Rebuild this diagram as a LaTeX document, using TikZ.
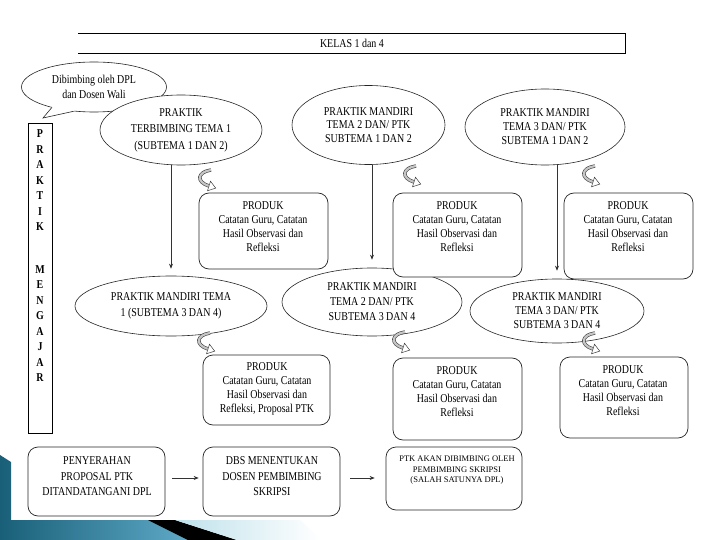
\documentclass[tikz,border=0pt]{standalone}
\usepackage{fontspec}
\setmainfont{Liberation Serif}[FakeStretch=0.83]
\newfontfamily\wideserif{Liberation Serif}
\usetikzlibrary{shapes.geometric,arrows.meta,calc}
\begin{document}
\begin{tikzpicture}[x=1pt,y=-1pt,
  ell/.style={draw=black!85, line width=0.6pt, ellipse, inner sep=0pt, align=center, fill=white},
  prod/.style={draw=black!85, line width=0.7pt, rounded corners=10pt, fill=white, inner sep=0pt},
  ptext/.style={align=center, inner sep=0pt, font=\fontsize{12}{14}\selectfont},
  arr/.style={draw=black!80, line width=0.6pt, -{Stealth[length=5pt,width=4pt]}},
  curly/.pic={
    \draw[line width=3.4pt, black!75] (5,-10) .. controls (-9,-8) and (-10,2) .. (3,6);
    \draw[line width=2.2pt, gray!45] (5,-10) .. controls (-9,-8) and (-10,2) .. (3,6);
    \filldraw[fill=white, draw=black!75, line width=0.5pt] (4.5,1.2) -- (9.7,8.1) -- (1.5,10.8) -- cycle;
  }]
\useasboundingbox (0,0) rectangle (720,540);
\fill[white] (0,0) rectangle (720,540);

% slide decoration
\shade[left color={rgb,255:red,25;green,95;blue,120}, right color={rgb,255:red,95;green,170;blue,200}]
  (0,455) -- (11,462) -- (11,520) -- (150,520) -- (190,540) -- (0,540) -- cycle;
\fill[black] (148,520) -- (175,520) -- (237,540) -- (188,540) -- cycle;
\shade[left color={rgb,255:red,190;green,225;blue,235}, right color=white]
  (175,520) -- (300,520) -- (320,540) -- (237,540) -- cycle;

% header
\node[inner sep=0pt, font=\fontsize{12}{13}\selectfont] (K) at (352,43) {KELAS 1 dan 4};
\draw[line width=0.7pt] (78,33) -- (625,33) -- (625,53) -- (78,53);

% callout
\node[ell, minimum width=145pt, minimum height=50pt, font=\fontsize{12}{15}\selectfont] (C) at (94,87) {Dibimbing oleh DPL\\dan Dosen Wali};
\fill[white] (C.206) -- (43,118) -- (C.230) -- ($(C.230)!3pt!(C.center)$) -- ($(C.206)!3pt!(C.center)$) -- cycle;
\draw[line width=0.6pt, black!85] (C.206) -- (43,118) -- (C.230);

% vertical box
\node[draw, line width=0.7pt, minimum width=24pt, minimum height=310pt, inner sep=0pt] (V) at (40,278) {};
\node[align=center, inner sep=0pt, font=\bfseries\fontsize{12}{15.5}\selectfont] (VT) at (40,256)
  {P\\R\\A\\K\\T\\I\\K\\[27pt]M\\E\\N\\G\\A\\J\\A\\R};

% row 1 ellipses
\node[ell, minimum width=162pt, minimum height=70pt, font=\fontsize{12}{16.5}\selectfont] (E1) at (181,130) {PRAKTIK\\TERBIMBING TEMA 1\\(SUBTEMA 1 DAN 2)};
\node[ell, minimum width=153pt, minimum height=79pt, font=\fontsize{12}{13.5}\selectfont] (E2) at (368.5,125) {PRAKTIK MANDIRI\\TEMA 2 DAN/ PTK\\SUBTEMA 1 DAN 2};
\node[ell, minimum width=160pt, minimum height=76pt, font=\fontsize{12}{14}\selectfont] (E3) at (545,127) {PRAKTIK MANDIRI\\TEMA 3 DAN/ PTK\\SUBTEMA 1 DAN 2};

% row 2 ellipses
\node[ell, minimum width=192pt, minimum height=60pt, font=\fontsize{12}{16}\selectfont] (F1) at (171,306) {PRAKTIK MANDIRI TEMA\\1 (SUBTEMA 3 DAN 4)};
\node[ell, minimum width=180pt, minimum height=68pt, font=\fontsize{12}{15}\selectfont] (F2) at (372,302) {PRAKTIK MANDIRI\\TEMA 2 DAN/ PTK\\SUBTEMA 3 DAN 4};
\node[ell, minimum width=174pt, minimum height=64pt, font=\fontsize{12}{14}\selectfont] (F3) at (557,311) {PRAKTIK MANDIRI\\TEMA 3 DAN/ PTK\\SUBTEMA 3 DAN 4};

% vertical arrows
\draw[arr] (E1.south -| F1.north) -- ([yshift=7pt]F1.north);
\draw[arr] (E2.south -| F2.north) -- ([yshift=8pt]F2.north);
\draw[arr] (E3.south -| F3.north) -- ([yshift=8pt]F3.north);

% row 1 products
\node[prod, minimum width=129pt, minimum height=76pt] (P1) at (263.5,231) {};
\node[ptext] (P1t) at (263,227) {PRODUK\\Catatan Guru, Catatan\\Hasil Observasi dan\\Refleksi};
\node[prod, minimum width=129pt, minimum height=84pt] (P2) at (457.5,235) {};
\node[ptext] (P2t) at (457,227) {PRODUK\\Catatan Guru, Catatan\\Hasil Observasi dan\\Refleksi};
\node[prod, minimum width=129pt, minimum height=86pt] (P3) at (628.5,236) {};
\node[ptext] (P3t) at (628,227) {PRODUK\\Catatan Guru, Catatan\\Hasil Observasi dan\\Refleksi};

% row 2 products
\node[prod, minimum width=127pt, minimum height=70pt] (Q1) at (266.5,390) {};
\node[ptext] (Q1t) at (267,389) {PRODUK\\Catatan Guru, Catatan\\Hasil Observasi dan\\Refleksi, Proposal PTK};
\node[prod, minimum width=129pt, minimum height=82pt] (Q2) at (457.5,399) {};
\node[ptext] (Q2t) at (457,392) {PRODUK\\Catatan Guru, Catatan\\Hasil Observasi dan\\Refleksi};
\node[prod, minimum width=128pt, minimum height=81pt] (Q3) at (624,397.5) {};
\node[ptext] (Q3t) at (623,390.5) {PRODUK\\Catatan Guru, Catatan\\Hasil Observasi dan\\Refleksi};

% curved block arrows
\pic at (206,180) {curly};
\pic at (411,176) {curly};
\pic at (590,176) {curly};
\pic at (205,343) {curly};
\pic at (400,342) {curly};
\pic at (590,343) {curly};

% bottom row
\node[prod, minimum width=137pt, minimum height=69pt] (B1) at (96.5,481.5) {};
\node[ptext, font=\fontsize{12}{15.5}\selectfont] (B1t) at (97,476.5) {PENYERAHAN\\PROPOSAL PTK\\DITANDATANGANI DPL};
\node[prod, minimum width=137pt, minimum height=69pt] (B2) at (271.5,481.5) {};
\node[ptext, font=\fontsize{12}{15.5}\selectfont] (B2t) at (272,476.5) {DBS MENENTUKAN\\DOSEN PEMBIMBING\\SKRIPSI};
\node[prod, minimum width=136pt, minimum height=63pt] (B3) at (454,478.5) {};
\node[ptext, font=\wideserif\fontsize{8.5}{10.5}\selectfont] (B3t) at (457,470.5) {PTK AKAN DIBIMBING OLEH\\PEMBIMBING SKRIPSI\\(SALAH SATUNYA DPL)};

\draw[arr, shorten <=7pt, shorten >=4pt] ([yshift=3.5pt]B1.east) -- ([yshift=3.5pt]B2.west);
\draw[arr, shorten <=10pt, shorten >=11pt] ([yshift=3.5pt]B2.east) -- ([yshift=3.5pt]B2.east -| B3.west);
\end{tikzpicture}
\end{document}
